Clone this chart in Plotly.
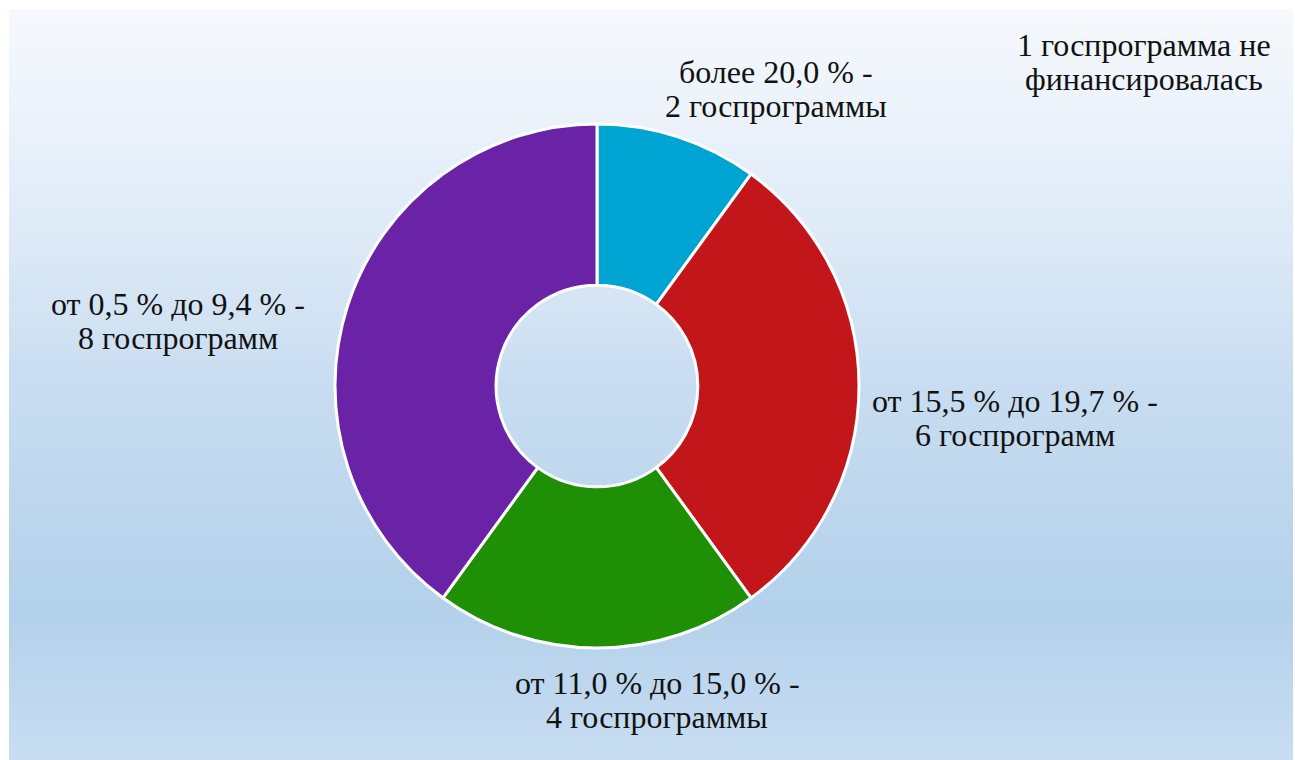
import plotly.graph_objects as go
import numpy as np

# ---- data ----
categories = [
    "более 20,0 % -<br>2 госпрограммы",
    "от 15,5 % до 19,7 % -<br>6 госпрограмм",
    "от 11,0 % до 15,0 % -<br>4 госпрограммы",
    "от 0,5 % до 9,4 % -<br>8 госпрограмм",
]
counts = [2, 6, 4, 8]
note_text = "1 госпрограмма не<br>финансировалась"

# ---- style ----
W, H = 1295, 760
slice_colors = ["#00a4d2", "#c2161b", "#1f8f06", "#6a23a6"]
label_pos = [(776, 89), (1015, 418), (657, 700), (178, 321)]  # pixel centres of each two-line block
note_pos = (1144, 62)
line_gap = 34
font_family = "Liberation Serif"
font_size = 32

fig = go.Figure()

cx, cy, r = 597, 386, 262
fig.add_trace(go.Pie(
    labels=categories,
    values=counts,
    sort=False,
    direction="clockwise",
    rotation=0,
    hole=0.385,
    marker=dict(colors=slice_colors, line=dict(color="white", width=3)),
    textinfo="none",
    hoverinfo="label+value",
    showlegend=False,
    domain=dict(x=[(cx - r) / W, (cx + r) / W], y=[1 - (cy + r) / H, 1 - (cy - r) / H]),
))

# background gradient (vertical)
stops_y = [10, 120, 250, 380, 610, 760]
stops_c = [(246, 249, 253), (235, 242, 250), (220, 233, 246), (201, 221, 241), (179, 209, 235), (200, 221, 242)]
shapes = []
step = 4
for y0 in range(10, 760, step):
    y1 = min(y0 + step, 760)
    ym = (y0 + y1) / 2
    col = [int(round(np.interp(ym, stops_y, [c[i] for c in stops_c]))) for i in range(3)]
    shapes.append(dict(
        type="rect", xref="paper", yref="paper", layer="below",
        x0=9 / W, x1=1293 / W, y0=1 - y1 / H, y1=1 - y0 / H + 0.0005,
        fillcolor="rgb(%d,%d,%d)" % tuple(col), line=dict(width=0),
    ))


def add_block(text, px, py, out):
    lines = text.split("<br>")
    n = len(lines)
    for i, ln in enumerate(lines):
        ly = py + (i - (n - 1) / 2) * line_gap
        out.append(dict(
            text=ln, x=px / W, y=1 - ly / H, xref="paper", yref="paper",
            xanchor="center", yanchor="middle", showarrow=False, align="center",
            font=dict(family=font_family, size=font_size, color="#111111"),
        ))


annotations = []
for txt, (px, py) in zip(categories, label_pos):
    add_block(txt, px, py, annotations)
add_block(note_text, note_pos[0], note_pos[1], annotations)

fig.update_layout(
    width=W, height=H,
    margin=dict(l=0, r=0, t=0, b=0),
    paper_bgcolor="white",
    plot_bgcolor="rgba(0,0,0,0)",
    shapes=shapes,
    annotations=annotations,
)

fig.write_html("out.html")
